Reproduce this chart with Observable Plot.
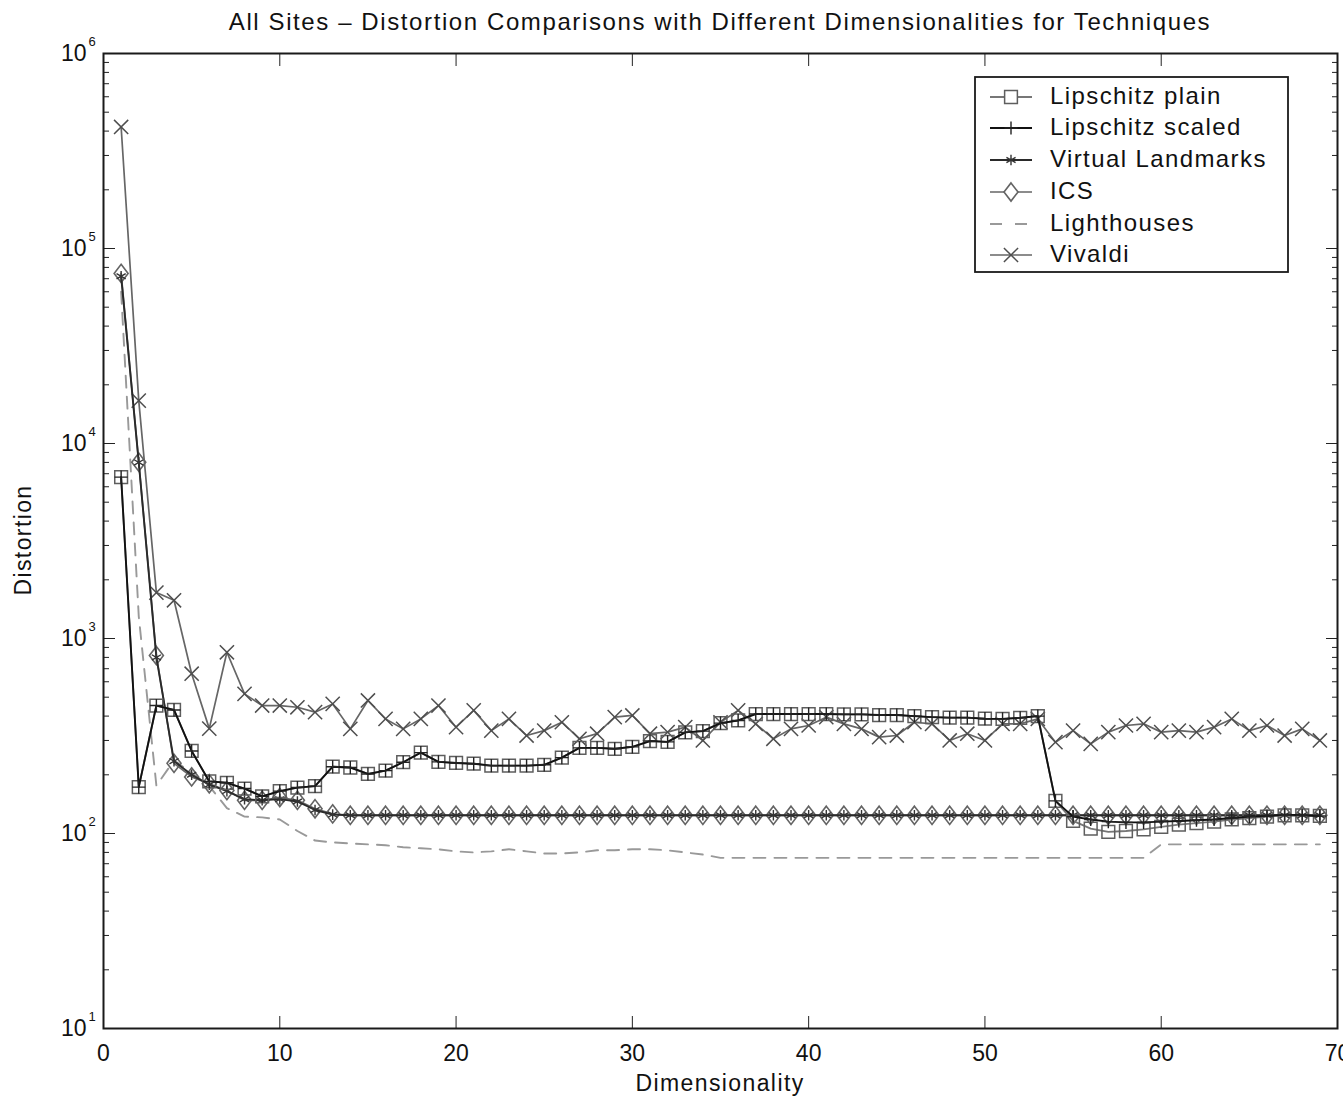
<!DOCTYPE html>
<html><head><meta charset="utf-8">
<script src="https://cdn.jsdelivr.net/npm/d3@7"></script>
<script src="https://cdn.jsdelivr.net/npm/@observablehq/plot@0.6"></script>
<style>
body{margin:0;background:#fff;font-family:"Liberation Sans",Arial,sans-serif;}
#title{height:40px;width:1343px;box-sizing:border-box;padding-left:103px;padding-right:6px;text-align:center;font-size:24px;line-height:44px;color:#111;letter-spacing:1.6px;white-space:nowrap;}
#chart svg{display:block;}
</style></head><body>
<div id="title">All Sites – Distortion Comparisons with Different Dimensionalities for Techniques</div>
<div id="chart"></div>
<script>
const dims = [1,2,3,4,5,6,7,8,9,10,11,12,13,14,15,16,17,18,19,20,21,22,23,24,25,26,27,28,29,30,31,32,33,34,35,36,37,38,39,40,41,42,43,44,45,46,47,48,49,50,51,52,53,54,55,56,57,58,59,60,61,62,63,64,65,66,67,68,69];
const lipschitzPlain = [6720,173,453,430,265,185,182,170,155,165,172,175,220,218,202,210,232,260,233,230,228,223,223,223,225,245,275,275,272,278,298,295,330,335,368,380,410,410,410,410,410,408,408,405,405,400,395,393,393,388,387,392,400,147,116,106,102,103,105,108,111,113,115,118,120,122,124,124,123];
const lipschitzScaled = [6720,173,453,430,265,185,182,170,155,165,172,175,220,218,202,210,232,260,233,230,228,223,223,223,225,245,275,275,272,278,298,295,330,335,368,380,410,410,410,410,410,408,408,405,405,400,395,393,393,388,387,392,400,147,122,118,115,114,114,115,116,117,118,120,122,123,125,124,123];
const virtualLandmarks = [72000,8000,800,235,200,178,165,150,148,150,146,132,125,124,124,124,124,124,124,124,124,124,124,124,124,124,124,124,124,124,124,124,124,124,124,124,124,124,124,124,124,124,124,124,124,124,124,124,124,124,124,124,124,124,124,124,124,124,124,124,124,124,124,124,124,124,124,124,124];
const ics = [74500,8020,818,229,195,180,166,148,148,153,148,134,126,124,124,124,124,124,124,124,124,124,124,124,124,124,124,124,124,124,124,124,124,124,124,124,124,124,124,124,124,124,124,124,124,124,124,124,124,124,124,124,124,124,124,124,124,124,124,124,124,124,124,124,124,124,124,124,124];
const lighthouses = [60000,1300,176,237,205,175,135,122,121,118,103,92,90,89,88,87,85,84,83,81,80,81,83,81,79,79,80,82,82,83,83,82,80,78,75,75,75,75,75,75,75,75,75,75,75,75,75,75,75,75,75,75,75,75,75,75,75,75,75,88,88,88,88,88,88,88,88,88,88];
const vivaldi = [420000,16600,1720,1570,660,345,850,520,453,453,444,419,462,344,481,387,344,387,453,351,428,337,387,318,337,372,306,325,395,403,325,331,351,300,372,428,365,306,344,358,395,365,344,312,318,372,365,300,325,300,365,365,387,294,337,288,331,358,365,331,337,331,351,387,337,358,318,344,300];

const seriesNames = ["Lipschitz plain","Lipschitz scaled","Virtual Landmarks","ICS","Lighthouses","Vivaldi"];
const xTicks = [0,10,20,30,40,50,60,70];
const yDecades = [1e1,1e2,1e3,1e4,1e5,1e6];
const yMinor = [1,2,3,4,5].flatMap(k => [2,3,4,5,6,7,8,9].map(m => m * 10 ** k));

const tallDiamond = {draw(ctx, size){ const r = Math.sqrt(size/Math.PI); const h = r*1.3; ctx.moveTo(0,-h); ctx.lineTo(r,0); ctx.lineTo(0,h); ctx.lineTo(-r,0); ctx.closePath(); }};

// styles per series (kept separate from data)
const styles = [
  {values: lipschitzPlain, stroke:"#777", width:1.8, dash:null, symbol:"square", r:7.2, mstroke:"#5e5e5e", mw:1.5},
  {values: lipschitzScaled, stroke:"#111", width:1.9, dash:null, symbol:"plus", r:4.3, mstroke:"#222", mw:1.4},
  {values: virtualLandmarks, stroke:"#2a2a2a", width:1.9, dash:null, symbol:"asterisk", r:5, mstroke:"#333", mw:1.4},
  {values: ics, stroke:"#666", width:1.7, dash:null, symbol:tallDiamond, r:7, mstroke:"#646464", mw:1.6},
  {values: lighthouses, stroke:"#999", width:1.9, dash:"12,9", symbol:null},
  {values: vivaldi, stroke:"#666", width:1.7, dash:null, symbol:"times", r:6.5, mstroke:"#4e4e4e", mw:1.5}
];
const drawOrder = [5,4,3,2,0,1];

const marks = [];
for (const i of drawOrder) {
  const s = styles[i];
  marks.push(Plot.line(s.values, {x: dims, y: s.values, stroke: s.stroke, strokeWidth: s.width, strokeDasharray: s.dash}));
  if (s.symbol) marks.push(Plot.dot(s.values, {x: dims, y: s.values, symbol: s.symbol, r: s.r, stroke: s.mstroke, fill: "none", strokeWidth: s.mw}));
}

const chart = Plot.plot({
  width: 1343, height: 1060,
  marginTop: 13, marginBottom: 72, marginLeft: 103, marginRight: 6,
  style: {fontFamily: '"Liberation Sans", Arial, sans-serif', fontSize: "23px", color: "#111", background: "#fff", overflow: "visible"},
  x: {domain: [0, 70]},
  y: {type: "log", domain: [10, 1e6]},
  marks: [
    ...marks,
    Plot.axisX({ticks: xTicks, anchor: "bottom", tickSize: 0, tickPadding: 16, fontSize: 23, label: null, tickFormat: d => String(d)}),
    Plot.axisX({ticks: xTicks, anchor: "bottom", tickSize: -12, tickFormat: () => "", label: null, stroke: "#222"}),
    Plot.axisX({ticks: xTicks, anchor: "top", tickSize: -12, tickFormat: () => "", label: null, stroke: "#222"}),
    Plot.axisY({ticks: yDecades, anchor: "left", tickSize: -12, tickFormat: () => "", label: null, stroke: "#222"}),
    Plot.axisY({ticks: yMinor, anchor: "left", tickSize: -6, tickFormat: () => "", label: null, stroke: "#222"}),
    Plot.axisY({ticks: yDecades, anchor: "right", tickSize: -12, tickFormat: () => "", label: null, stroke: "#222"}),
    Plot.axisY({ticks: yMinor, anchor: "right", tickSize: -6, tickFormat: () => "", label: null, stroke: "#222"}),
    Plot.text(yDecades, {frameAnchor: "left", y: d => d, text: () => "10", textAnchor: "end", dx: -17, fontSize: 23, fill: "#111"}),
    Plot.text(yDecades, {frameAnchor: "left", y: d => d, text: d => String(Math.round(Math.log10(d))), textAnchor: "start", dx: -15, dy: -12, fontSize: 13, fill: "#111"}),
    Plot.frame({stroke: "#1a1a1a", strokeWidth: 2})
  ]
});
document.getElementById("chart").appendChild(chart);

// axis titles and legend
const svg = d3.select(chart);
svg.append("text").attr("x", 720).attr("y", 1045).attr("text-anchor", "middle").attr("dominant-baseline", "middle")
  .attr("font-size", 23).attr("letter-spacing", 1.4).attr("fill", "#111").text("Dimensionality");
svg.append("text").attr("transform", "translate(25,500) rotate(-90)").attr("text-anchor", "middle").attr("dominant-baseline", "middle")
  .attr("font-size", 23).attr("letter-spacing", 1.4).attr("fill", "#111").text("Distortion");

const lg = svg.append("g").attr("transform", "translate(975,37)").attr("text-anchor", "start");
lg.append("rect").attr("width", 313).attr("height", 195).attr("fill", "white").attr("stroke", "#1a1a1a").attr("stroke-width", 1.8);
const rowY = [20, 51, 83, 115, 147, 178];
const symMap = {"square": d3.symbolSquare, "plus": d3.symbolPlus, "asterisk": d3.symbolAsterisk, "times": d3.symbolTimes};
seriesNames.forEach((name, i) => {
  const s = styles[i];
  const g = lg.append("g").attr("transform", `translate(0,${rowY[i]})`);
  g.append("line").attr("x1", 15).attr("x2", 57).attr("y1", 0).attr("y2", 0)
    .attr("stroke", s.stroke).attr("stroke-width", s.width).attr("stroke-dasharray", s.dash ? "12,13" : null);
  if (s.symbol) {
    const type = typeof s.symbol === "string" ? symMap[s.symbol] : s.symbol;
    g.append("path").attr("transform", "translate(36,0)").attr("d", d3.symbol(type, Math.PI * s.r * s.r)())
      .attr("fill", "white").attr("stroke", s.mstroke).attr("stroke-width", s.mw);
  }
  g.append("text").attr("x", 75).attr("y", 1).attr("text-anchor", "start").attr("dominant-baseline", "middle").attr("font-size", 24)
    .attr("letter-spacing", 1.4).attr("fill", "#111").text(name);
});
</script>
</body></html>
